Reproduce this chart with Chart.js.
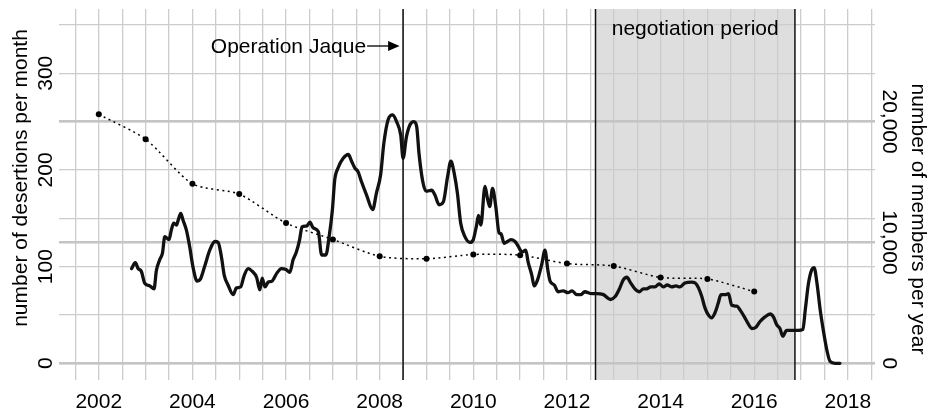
<!DOCTYPE html>
<html>
<head>
<meta charset="utf-8">
<script src="https://cdn.jsdelivr.net/npm/chart.js@4.4.1/dist/chart.umd.min.js"></script>
<style>
  html, body { margin: 0; padding: 0; background: #fff; }
  #wrap { width: 933px; height: 413px; }
</style>
</head>
<body>
<div id="wrap"><canvas id="c" width="933" height="413" style="width:933px;height:413px"></canvas></div>
<script>
// ---- Data ----
const desertionDates = [
  2002.70,2002.78,2002.84,2002.91,2002.98,2003.09,2003.18,2003.23,2003.30,2003.36,
  2003.41,2003.50,2003.55,2003.60,2003.66,2003.69,2003.75,2003.80,2003.87,2003.94,
  2004.01,2004.10,2004.17,2004.26,2004.37,2004.48,2004.55,2004.62,2004.68,2004.76,
  2004.87,2004.94,2005.03,2005.10,2005.19,2005.28,2005.37,2005.44,2005.49,2005.55,
  2005.62,2005.70,2005.80,2005.90,2006.00,2006.08,2006.15,2006.22,2006.29,2006.34,
  2006.44,2006.51,2006.58,2006.69,2006.76,2006.85,2006.92,2006.99,2007.04,2007.11,
  2007.22,2007.33,2007.40,2007.47,2007.54,2007.61,2007.72,2007.85,2007.93,2008.02,
  2008.09,2008.18,2008.28,2008.36,2008.45,2008.50,2008.57,2008.65,2008.73,2008.79,
  2008.84,2008.92,2008.99,2009.11,2009.18,2009.27,2009.36,2009.45,2009.52,2009.59,
  2009.66,2009.73,2009.82,2009.93,2010.00,2010.07,2010.11,2010.16,2010.25,2010.30,
  2010.35,2010.41,2010.48,2010.55,2010.59,2010.66,2010.73,2010.80,2010.89,2010.96,
  2011.04,2011.12,2011.17,2011.25,2011.30,2011.37,2011.46,2011.53,2011.59,2011.64,
  2011.73,2011.81,2011.92,2012.02,2012.11,2012.21,2012.30,2012.38,2012.53,2012.63,
  2012.78,2012.93,2013.03,2013.13,2013.20,2013.28,2013.35,2013.45,2013.55,2013.63,
  2013.70,2013.79,2013.88,2013.97,2014.06,2014.14,2014.24,2014.33,2014.41,2014.52,
  2014.66,2014.74,2014.81,2014.88,2014.95,2015.02,2015.09,2015.16,2015.23,2015.29,
  2015.38,2015.45,2015.52,2015.63,2015.70,2015.79,2015.87,2015.95,2016.03,2016.12,
  2016.23,2016.34,2016.41,2016.48,2016.55,2016.61,2016.69,2016.80,2016.94,2017.04,
  2017.09,2017.16,2017.23,2017.28,2017.34,2017.41,2017.48,2017.55,2017.62,2017.73,
  2017.83
];
const desertionValues = [
  98,104,98,95,83,80,77,96,107,114,
  131,128,138,145,143,147,155,148,138,121,
  100,85,87,100,117,126,125,110,91,81,
  71,78,79,90,98,95,89,76,88,79,
  84,85,93,98,97,94,107,115,128,141,
  142,146,140,136,112,112,131,159,190,202,
  212,216,209,202,198,188,174,159,176,195,
  228,252,257,250,236,212,234,247,250,245,
  217,188,178,179,174,164,167,193,209,197,
  176,145,131,125,128,143,153,143,183,171,
  162,181,162,135,134,124,126,128,126,121,
  115,117,105,91,80,86,102,117,97,85,
  81,74,75,73,75,71,71,74,72,72,
  71,66,69,78,86,89,84,77,74,77,
  77,79,79,82,79,81,79,80,79,83,
  84,83,78,69,57,50,47,52,62,71,
  71,72,60,59,55,48,41,36,37,43,
  48,51,48,40,36,28,34,34,34,35,
  55,83,97,99,83,55,33,14,2,0,
  0
];
const memberYears  = [2002,2003,2004,2005,2006,2007,2008,2009,2010,2011,2012,2013,2014,2015,2016];
const memberCounts = [20600,18550,14850,14000,11600,10250,8850,8650,9000,8950,8250,8050,7100,6980,5930];

const xTickYears        = [2002,2004,2006,2008,2010,2012,2014,2016,2018];
const leftTickValues    = [0,100,200,300];
const rightTickValues   = [0,10000,20000];

const jaqueDate         = 2008.5;
const negotiationStart  = 2012.61;
const negotiationEnd    = 2016.87;

const leftTitle  = 'number of desertions per month';
const rightTitle = 'number of members per year';
const jaqueLabel = 'Operation Jaque';
const negoLabel  = 'negotiation period';

// ---- Chart ----
const FONT = '"Liberation Sans", Arial, Helvetica, sans-serif';
const FS = 21;

const overlay = {
  id: 'overlay',
  beforeDraw(chart) {
    const {ctx, chartArea: a, scales: {x}} = chart;
    const x0 = x.getPixelForValue(negotiationStart), x1 = x.getPixelForValue(negotiationEnd);
    ctx.save();
    ctx.fillStyle = '#dedede';
    ctx.fillRect(x0, a.top, x1 - x0, a.bottom - a.top);
    ctx.restore();
  },
  beforeDatasetsDraw(chart) {
    const {ctx, chartArea: a, scales: {x}} = chart;
    ctx.save();
    ctx.strokeStyle = '#111';
    ctx.lineWidth = 1.5;
    [jaqueDate, negotiationStart, negotiationEnd].forEach(v => {
      const px = x.getPixelForValue(v);
      ctx.beginPath();
      ctx.moveTo(px, a.top);
      ctx.lineTo(px, a.bottom);
      ctx.stroke();
    });
    ctx.restore();
  },
  afterDraw(chart) {
    const {ctx, chartArea: a, scales: {x, y, y2}} = chart;
    ctx.save();
    ctx.fillStyle = '#000';
    ctx.font = FS + 'px ' + FONT;

    // annotations
    const jx = x.getPixelForValue(jaqueDate);
    ctx.textAlign = 'right';
    ctx.textBaseline = 'alphabetic';
    ctx.fillText(jaqueLabel, jx - 37, a.top + 43.5);
    ctx.strokeStyle = '#000';
    ctx.lineWidth = 1.3;
    ctx.beginPath();
    ctx.moveTo(jx - 36, a.top + 37);
    ctx.lineTo(jx - 12, a.top + 37);
    ctx.stroke();
    ctx.beginPath();
    ctx.moveTo(jx - 3.5, a.top + 37);
    ctx.lineTo(jx - 15, a.top + 32);
    ctx.lineTo(jx - 15, a.top + 42);
    ctx.closePath();
    ctx.fill();

    const nx = (x.getPixelForValue(negotiationStart) + x.getPixelForValue(negotiationEnd)) / 2;
    ctx.textAlign = 'center';
    ctx.fillText(negoLabel, nx, a.top + 25.5);

    // left tick labels (rotated, parallel to axis)
    leftTickValues.forEach(v => {
      ctx.save();
      ctx.translate(51.5, y.getPixelForValue(v));
      ctx.rotate(-Math.PI / 2);
      ctx.textAlign = 'center';
      ctx.fillText(String(v), 0, 0);
      ctx.restore();
    });
    // right tick labels
    rightTickValues.forEach(v => {
      ctx.save();
      ctx.translate(883, y2.getPixelForValue(v));
      ctx.rotate(Math.PI / 2);
      ctx.textAlign = 'center';
      ctx.fillText(v.toLocaleString('en-US'), 0, 0);
      ctx.restore();
    });
    // axis titles
    ctx.save();
    ctx.translate(27, 178);
    ctx.rotate(-Math.PI / 2);
    ctx.textAlign = 'center';
    ctx.fillText(leftTitle, 0, 0);
    ctx.restore();

    ctx.save();
    ctx.translate(911.5, 219);
    ctx.rotate(Math.PI / 2);
    ctx.textAlign = 'center';
    ctx.fillText(rightTitle, 0, 0);
    ctx.restore();

    ctx.restore();
  }
};

new Chart(document.getElementById('c'), {
  type: 'line',
  data: {
    datasets: [
      {
        label: 'desertions',
        data: desertionDates.map((d, i) => ({x: d, y: desertionValues[i]})),
        yAxisID: 'y',
        borderColor: '#111',
        borderWidth: 3.3,
        pointRadius: 0,
        cubicInterpolationMode: 'monotone',
        borderJoinStyle: 'round',
        borderCapStyle: 'round',
        fill: false
      },
      {
        label: 'members',
        data: memberYears.map((d, i) => ({x: d, y: memberCounts[i]})),
        yAxisID: 'y2',
        borderColor: '#000',
        borderWidth: 1.5,
        borderDash: [2, 3.5],
        tension: 0.25,
        pointRadius: 3,
        pointBackgroundColor: '#000',
        pointBorderWidth: 0,
        fill: false
      }
    ]
  },
  options: {
    responsive: false,
    animation: false,
    devicePixelRatio: 1,
    layout: { padding: { top: 9, left: 0, right: 0, bottom: 0 } },
    plugins: { legend: { display: false }, tooltip: { enabled: false } },
    scales: {
      x: {
        type: 'linear',
        min: 2001.15,
        max: 2018.58,
        afterFit(s) { s.height = 33; },
        border: { display: false },
        grid: { color: '#cccccc', lineWidth: 1.3, drawTicks: false },
        ticks: {
          stepSize: 0.5,
          includeBounds: false,
          maxTicksLimit: 200,
          autoSkip: false,
          maxRotation: 0,
          minRotation: 0,
          padding: 10,
          color: '#000',
          font: { family: FONT, size: FS },
          callback: (v) => xTickYears.includes(v) ? String(v) : ''
        }
      },
      y: {
        position: 'left',
        min: -17.3,
        max: 366.5,
        afterFit(s) { s.width = 59; },
        border: { display: false },
        grid: { color: '#cccccc', lineWidth: 1.3, drawTicks: false },
        ticks: { display: false, stepSize: 50, includeBounds: false, maxTicksLimit: 100 }
      },
      y2: {
        position: 'right',
        min: -1384,
        max: 29320,
        afterFit(s) { s.width = 58; },
        afterBuildTicks(s) { s.ticks = rightTickValues.map(v => ({ value: v })); },
        border: { display: false },
        grid: { color: '#c4c4c4', lineWidth: 2.6, drawTicks: false },
        ticks: { display: false }
      }
    }
  },
  plugins: [overlay]
});
</script>
</body>
</html>
